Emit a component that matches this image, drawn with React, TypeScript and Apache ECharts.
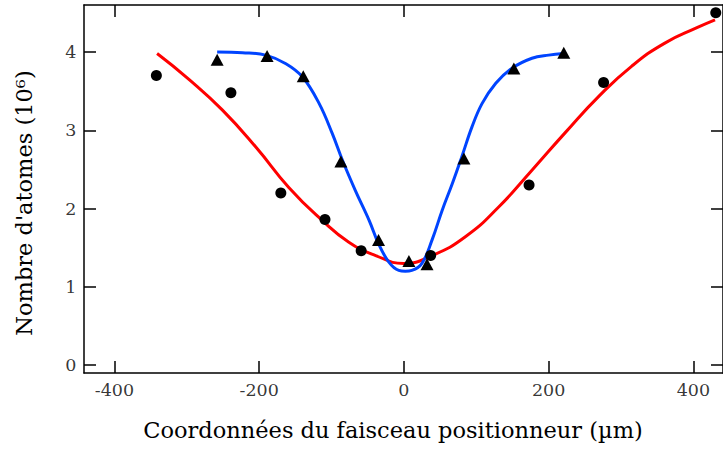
import React, { useEffect, useRef } from "react";
import * as echarts from "echarts";

const xTicks = [-400, -200, 0, 200, 400];
const yTicks = [0, 1, 2, 3, 4];

// Measured points (circles)
const circleX = [-342, -239, -170, -109, -59, 37, 173, 276, 431];
const circleY = [3.7, 3.48, 2.2, 1.86, 1.46, 1.4, 2.3, 3.61, 4.5];

// Measured points (triangles)
const triX = [-258, -189, -139, -87, -35, 7, 32, 83, 152, 221];
const triY = [3.9, 3.95, 3.69, 2.6, 1.6, 1.33, 1.29, 2.64, 3.79, 3.99];

// Red fit curve
const redX = [-341, -297, -251, -204, -159, -113, -76, -39, 0, 39, 85, 131, 177, 223, 269, 315, 360, 405, 430];
const redY = [3.98, 3.65, 3.26, 2.78, 2.27, 1.85, 1.57, 1.4, 1.3, 1.4, 1.64, 2.02, 2.49, 2.97, 3.43, 3.82, 4.11, 4.31, 4.41];

// Blue fit curve
const blueX = [-258, -223, -191, -163, -140, -117, -99, -85, -67, -48, -35, -21, -7, 2, 11, 25, 39, 53, 67, 80, 94, 108, 127, 149, 177, 200, 221];
const blueY = [4.0, 3.99, 3.96, 3.85, 3.68, 3.34, 2.96, 2.62, 2.23, 1.85, 1.55, 1.32, 1.21, 1.2, 1.21, 1.3, 1.6, 1.98, 2.32, 2.66, 3.04, 3.34, 3.6, 3.79, 3.92, 3.96, 3.98];

const xTitle = "Coordonnées du faisceau positionneur (µm)";
const yTitle = "Nombre d'atomes (10⁶)";

const FONT = "DejaVu Serif";
const X_MIN = -442;
const X_MAX = 441;
const Y_MIN = -0.1;
const Y_MAX = 4.6;

const zip = (xs: number[], ys: number[]) => xs.map((x, i) => [x, ys[i]]);

export default function App() {
  const ref = useRef<HTMLDivElement>(null);
  useEffect(() => {
    if (!ref.current) return;
    const chart = echarts.init(ref.current, null, { renderer: "svg" });
    const axisLine = { show: true, onZero: false, lineStyle: { color: "#000", width: 1.5 } };
    const tick = (vals: number[]) => ({
      show: true,
      inside: true,
      length: 12,
      customValues: vals,
      lineStyle: { color: "#000", width: 1.5 },
    });
    const labelStyle = {
      show: true,
      color: "#000",
      fontFamily: FONT,
      fontSize: 17.5,
      distance: 7,
    };
    chart.setOption({
      animation: false,
      backgroundColor: "#fff",
      textStyle: { fontFamily: FONT },
      grid: { left: 84, top: 5, width: 641, height: 368, containLabel: false },
      xAxis: [
        {
          type: "value",
          min: X_MIN,
          max: X_MAX,
          position: "bottom",
          axisLine,
          axisTick: tick(xTicks),
          splitLine: { show: false },
          axisLabel: { show: false },
        },
        {
          type: "value",
          min: X_MIN,
          max: X_MAX,
          position: "top",
          axisLine,
          axisTick: tick(xTicks),
          splitLine: { show: false },
          axisLabel: { show: false },
        },
      ],
      yAxis: [
        {
          type: "value",
          min: Y_MIN,
          max: Y_MAX,
          position: "left",
          axisLine,
          axisTick: tick(yTicks),
          splitLine: { show: false },
          axisLabel: { show: false },
        },
        {
          type: "value",
          min: Y_MIN,
          max: Y_MAX,
          position: "right",
          axisLine,
          axisTick: tick(yTicks),
          splitLine: { show: false },
          axisLabel: { show: false },
        },
      ],
      series: [
        {
          type: "line",
          data: zip(redX, redY),
          smooth: 0.5,
          showSymbol: false,
          lineStyle: { color: "#ff0000", width: 3 },
          z: 2,
        },
        {
          type: "line",
          data: zip(blueX, blueY),
          smooth: 0.4,
          showSymbol: false,
          lineStyle: { color: "#0044ff", width: 3 },
          z: 2,
        },
        {
          type: "scatter",
          data: zip(circleX, circleY),
          symbol: "circle",
          symbolSize: 11,
          itemStyle: { color: "#000", opacity: 1 },
          z: 3,
        },
        {
          type: "scatter",
          data: zip(triX, triY),
          symbol: "triangle",
          symbolSize: [13, 12],
          itemStyle: { color: "#000", opacity: 1 },
          z: 3,
        },
        {
          type: "scatter",
          silent: true,
          clip: false,
          data: xTicks.map((v) => [v, Y_MIN]),
          symbolSize: 1,
          itemStyle: { color: "rgba(0,0,0,0)" },
          label: {
            ...labelStyle,
            position: "bottom",
            formatter: (p: any) => String(p.value[0]),
          },
          z: 4,
        },
        {
          type: "scatter",
          silent: true,
          clip: false,
          data: yTicks.map((v) => [X_MIN, v]),
          symbolSize: 1,
          itemStyle: { color: "rgba(0,0,0,0)" },
          label: {
            ...labelStyle,
            position: "left",
            formatter: (p: any) => String(p.value[1]),
          },
          z: 4,
        },
      ],
      graphic: [
        {
          type: "text",
          x: 393,
          y: 430,
          style: {
            text: xTitle,
            fontFamily: FONT,
            fontSize: 22.5,
            fill: "#000",
            textAlign: "center",
            textVerticalAlign: "middle",
          },
        },
        {
          type: "text",
          x: 24,
          y: 203,
          rotation: Math.PI / 2,
          style: {
            text: yTitle,
            fontFamily: FONT,
            fontSize: 22.5,
            fill: "#000",
            textAlign: "center",
            textVerticalAlign: "middle",
          },
        },
      ],
    });
    return () => chart.dispose();
  }, []);
  return (
    <div
      ref={ref}
      style={{ position: "fixed", left: 0, top: 0, width: 723, height: 450, background: "#fff" }}
    />
  );
}
